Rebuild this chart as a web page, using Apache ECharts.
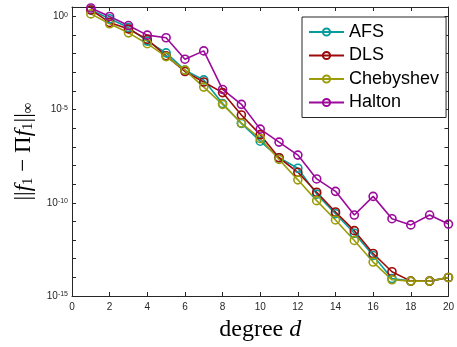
<!DOCTYPE html>
<html>
<head>
<meta charset="utf-8">
<script src="https://cdn.jsdelivr.net/npm/echarts@6/dist/echarts.min.js"></script>
<style>
html,body{margin:0;padding:0;background:#fff;}
#c{width:457px;height:347px;}
</style>
</head>
<body>
<div id="c"></div>
<script>
const degrees = [1,2,3,4,5,6,7,8,9,10,11,12,13,14,15,16,17,18,19,20];
const afs = [2.2,0.74,0.25,0.047,0.011,1.3e-3,3.9e-4,2.1e-5,1.8e-6,2.0e-7,2.6e-8,7.1e-9,2.9e-10,2.6e-11,2.3e-12,1.5e-13,8.7e-15,6.3e-15,6.3e-15,9.8e-15];
const dls = [2.2,0.47,0.21,0.058,7.6e-3,1.1e-3,3.0e-4,8.1e-5,5.1e-6,4.5e-7,2.6e-8,4.3e-9,3.7e-10,3.2e-11,3.2e-12,1.9e-13,2.0e-14,6.3e-15,6.3e-15,9.8e-15];
const cheb = [1.35,0.40,0.13,0.034,6.9e-3,1.3e-3,1.6e-4,1.9e-5,1.9e-6,2.8e-7,2.1e-8,1.7e-9,1.3e-10,1.2e-11,9.5e-13,6.6e-14,7.4e-15,6.3e-15,6.3e-15,9.8e-15];
const halton = [2.8,0.98,0.32,0.098,0.071,5.0e-3,1.4e-2,1.2e-4,1.9e-5,8.9e-7,1.8e-7,3.6e-8,1.9e-9,4.1e-10,2.2e-11,2.2e-10,1.4e-11,6.5e-12,2.2e-11,7.2e-12];
const seriesNames = ['AFS','DLS','Chebyshev','Halton'];
const seriesColors = ['#0a9c9c','#9c0a0a','#9c9c0a','#9c0a9c'];
const xTicks = [0,2,4,6,8,10,12,14,16,18,20];
const yMin = 1e-15, yMax = Math.pow(10, 0.5);

const axisColor = '#262626';
const chart = echarts.init(document.getElementById('c'), null, {renderer:'canvas'});

function mk(name, data, color){
  return {
    name: name, type: 'line',
    data: degrees.map((d,i)=>[d,data[i]]),
    symbol: 'circle', symbolSize: 8,
    lineStyle: {color: color, width: 1.6},
    itemStyle: {color: 'rgba(255,255,255,0)', borderColor: color, borderWidth: 1.6},
    emphasis: {disabled: true},
    animation: false
  };
}
const dataArrays = [afs, dls, cheb, halton];

const yLabelFmt = function(v){
  const e = Math.round(Math.log10(v));
  if (Math.abs(Math.log10(v) - e) > 1e-6 || e % 5 !== 0) return '';
  return '{b|10}{s|' + e + '}';
};

const logAxisBase = {
  type: 'log', min: yMin, max: yMax, logBase: 10,
  splitLine: {show: false},
  axisLine: {show: false, lineStyle:{color: axisColor, width: 1}},
  axisTick: {show: true, inside: true, length: 4, lineStyle:{color: axisColor, width: 1}},
  axisLabel: {show: false}
};

const option = {
  animation: false,
  backgroundColor: '#fff',
  grid: {left: 72, right: 4, top: 7, bottom: 46, containLabel: false},
  legend: {
    orient: 'vertical', left: 302, top: 17,
    data: seriesNames,
    backgroundColor: '#fff', borderColor: axisColor, borderWidth: 1,
    padding: [6, 7, 6, 6],
    itemWidth: 35, itemHeight: 9, itemGap: 5.5,
    textStyle: {fontFamily: 'Liberation Sans, Arial', fontSize: 18, color: '#000', lineHeight: 18},
    selectedMode: false
  },
  xAxis: [
    {
      type: 'value', min: 0, max: 20, interval: 2, position: 'bottom',
      name: '{r|degree }{i|d}', nameLocation: 'middle', nameGap: 22,
      nameTextStyle: {rich: {
        r: {fontFamily: 'Liberation Serif', fontSize: 24, color: '#000'},
        i: {fontFamily: 'Liberation Serif', fontStyle: 'italic', fontSize: 24, color: '#000'}
      }},
      splitLine: {show: false},
      axisLine: {show: true, lineStyle: {color: axisColor, width: 1}},
      axisTick: {show: true, inside: true, length: 4, lineStyle: {color: axisColor}},
      axisLabel: {fontFamily: 'Liberation Sans, Arial', fontSize: 10, color: axisColor, margin: 6}
    },
    {
      type: 'value', min: 0, max: 20, interval: 2, position: 'top',
      splitLine: {show: false},
      axisLine: {show: true, lineStyle: {color: axisColor, width: 1}},
      axisTick: {show: true, inside: true, length: 4, lineStyle: {color: axisColor}},
      axisLabel: {show: false}
    }
  ],
  yAxis: [
    Object.assign({}, logAxisBase, {
      position: 'left', interval: 5,
      axisLine: {show: true, lineStyle:{color: axisColor, width: 1}},
      axisTick: {show: false},
      axisLabel: {show: true, formatter: yLabelFmt, margin: 4, color: axisColor,
        rich: {
          b: {fontFamily: 'Liberation Sans, Arial', fontSize: 10, color: axisColor, verticalAlign: 'bottom', lineHeight: 10},
          s: {fontFamily: 'Liberation Sans, Arial', fontSize: 7, color: axisColor, verticalAlign: 'top', lineHeight: 7, padding: [0,0,8,0]}
        }
      },
      name: '{n|||}{i|f}{s|1}{n| − Π}{i|f}{s|1}{n|||}{s|∞}',
      nameLocation: 'middle', nameGap: 36, nameRotate: 90,
      nameTextStyle: {rich: {
        n: {fontFamily: 'Liberation Serif', fontSize: 23, color: '#000', verticalAlign: 'top', lineHeight: 23},
        i: {fontFamily: 'Liberation Serif', fontStyle: 'italic', fontSize: 23, color: '#000', verticalAlign: 'top', lineHeight: 23},
        s: {fontFamily: 'Liberation Serif', fontSize: 15, color: '#000', verticalAlign: 'bottom', lineHeight: 15, padding: [11,0,0,0]}
      }}
    }),
    Object.assign({}, logAxisBase, {position: 'left', interval: 1}),
    Object.assign({}, logAxisBase, {position: 'right', interval: 1,
      axisLine: {show: true, lineStyle:{color: axisColor, width: 1}}})
  ],
  series: seriesNames.map((n,i)=>mk(n, dataArrays[i], seriesColors[i]))
};
chart.setOption(option);
</script>
</body>
</html>
